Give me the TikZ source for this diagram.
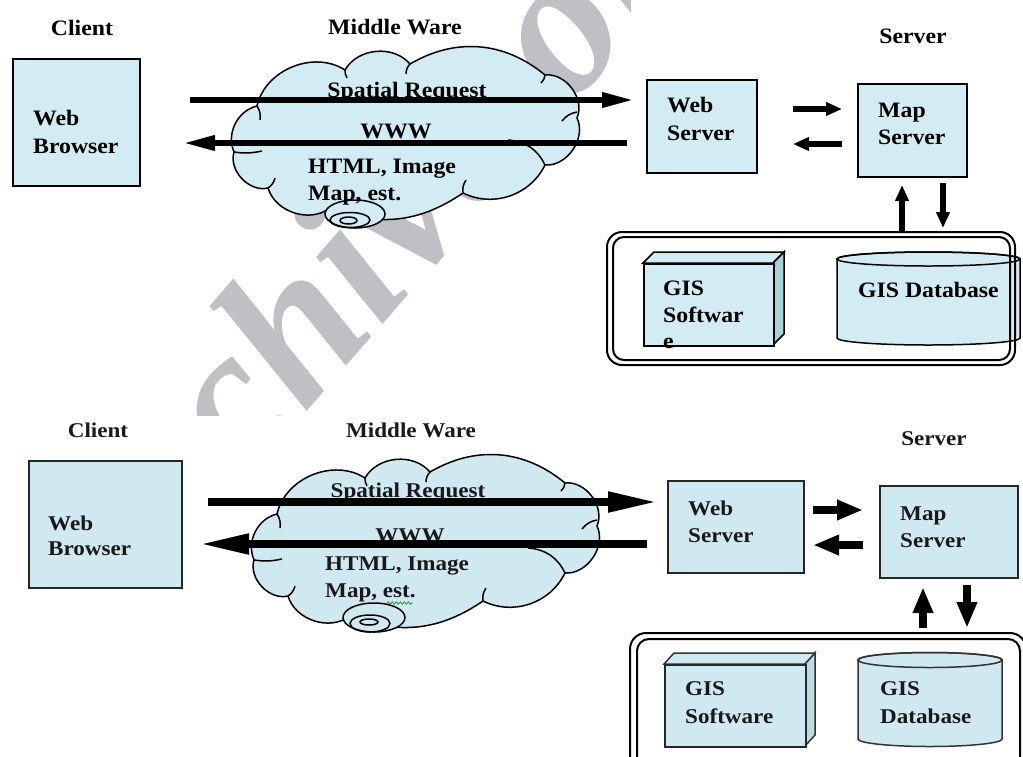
\documentclass[tikz,border=0pt]{standalone}
\usepackage{fontspec}
\setmainfont{Liberation Serif}
\newfontfamily\topf{Liberation Serif}[FakeStretch=1.08]
\newfontfamily\botf{Liberation Serif}[FakeStretch=1.1]
\newfontfamily\wmf{Liberation Serif}
\usetikzlibrary{arrows.meta,decorations.pathmorphing}
\definecolor{boxblue}{RGB}{211,236,243}
\definecolor{boxblueb}{RGB}{208,233,240}
\definecolor{sideteal}{RGB}{165,210,212}
\definecolor{sidetealb}{RGB}{185,222,226}
\definecolor{wmgray}{RGB}{190,192,196}
\definecolor{squig}{RGB}{40,150,60}
\tikzset{
 tt/.style={font=\topf\bfseries\fontsize{22}{26}\selectfont, inner sep=0pt, text=black},
 bt/.style={font=\botf\bfseries\fontsize{21}{25}\selectfont, inner sep=0pt, text=black!90},
 boxtop/.style={draw=black, line width=2pt, fill=boxblue, inner sep=0pt, anchor=north west},
 boxbot/.style={draw=black!85, line width=2pt, fill=boxblueb, inner sep=0pt, anchor=north west},
 bigarT/.style={line width=6.5pt, -{Triangle[length=33pt,width=14pt]}},
 smallarT/.style={line width=6pt, -{Triangle[length=16pt,width=13pt]}},
 bigarB/.style={line width=8pt, -{Triangle[length=50pt,width=19pt]}},
 smallarB/.style={line width=8pt, -{Triangle[length=26pt,width=19pt]}},
 cloudline/.style={draw=black, line width=1.5pt},
 thinline/.style={draw=black, line width=1.5pt},
 frameline/.style={draw=black, line width=2pt, rounded corners=15pt},
 cloudpic/.pic={
  \path[cloudline, fill=#1] (234,-152) to[bend left=50] (257,-106) to[bend left=55] (345,-70)
    to[bend left=55] (410,-64) to[bend left=35] (545,-75) to[bend left=60] (577,-118)
    to[bend left=60] (545,-165) to[bend left=45] (463,-193) to[bend left=28] (330,-208)
    to[bend left=55] (268,-188) to[bend left=60] (234,-152) -- cycle;
  \draw[thinline] (234,-152) to[bend right=10] (262,-151);
  \draw[thinline] (257,-106) to[bend left=20] (260,-120);
  \draw[thinline] (345,-70) to[bend right=15] (347,-78);
  \draw[thinline] (410,-64) to[bend right=20] (406,-74);
  \draw[thinline] (545,-75) to[bend left=20] (541,-83);
  \draw[thinline] (577,-112) to[bend right=20] (562,-121);
  \draw[thinline] (508,-140) to[bend left=30] (545,-165);
  \draw[thinline] (463,-193) to[bend left=20] (466,-180);
  \draw[thinline] (268,-188) to[bend right=20] (275,-178);
 },
}
\begin{document}
\begin{tikzpicture}[x=1pt,y=1pt]
\useasboundingbox (0,0) rectangle (1023,-756);
% watermark
\begin{scope}
 \clip (0,0) rectangle (630,-415);
 \node[font=\wmf\bfseries\itshape\fontsize{205}{225}\selectfont, text=wmgray, inner sep=0pt,
   anchor=center, rotate=49] (wm) at (483,-132) {Archive of SID};
\end{scope}

% ================= TOP DIAGRAM =================
\node[tt, anchor=base] (tclient) at (82,-35) {Client};
\node[tt, anchor=base] (tmid) at (395,-34) {Middle Ware};
\node[tt, anchor=base] (tserver) at (913,-43) {Server};

\node[boxtop, minimum width=127pt, minimum height=127pt] (twb) at (12,-58) {};
\node[tt, anchor=base west] (twb1) at (33,-125) {Web};
\node[tt, anchor=base west] (twb2) at (33,-153) {Browser};

\pic (tcloud) at (0,0) {cloudpic=boxblue};
\draw[cloudline, fill=boxblue] (355,-214) ellipse [x radius=30, y radius=14];
\draw[thinline] (350,-220) ellipse [x radius=20, y radius=7.5];
\draw[thinline] (348.5,-220.5) ellipse [x radius=8.5, y radius=3.5];

\node[tt, anchor=base] (tsr) at (407,-97) {Spatial Request};
\node[tt, anchor=base] (twww) at (396,-138) {WWW};
\node[tt, anchor=base west] (thtml) at (308,-173) {HTML, Image};
\node[tt, anchor=base west] (tmap) at (308,-200) {Map, est.};

\coordinate (tsrA) at (190,-100);
\coordinate (tsrB) at (635,-100);
\coordinate (twwA) at (627,-143);
\coordinate (twwB) at (182,-143);
\draw[bigarT] (tsrA) -- (tsrB);
\draw[bigarT] (twwA) -- (twwB);

\node[boxtop, minimum width=110pt, minimum height=93pt] (tws) at (646,-79) {};
\node[tt, anchor=base west] (tws1) at (667,-112) {Web};
\node[tt, anchor=base west] (tws2) at (667,-140) {Server};

\node[boxtop, minimum width=109pt, minimum height=93pt] (tms) at (857,-83) {};
\node[tt, anchor=base west] (tms1) at (878,-117) {Map};
\node[tt, anchor=base west] (tms2) at (878,-144) {Server};

\coordinate (ta1) at (793,-109);
\coordinate (ta2) at (842,-109);
\coordinate (ta3) at (842,-144);
\coordinate (ta4) at (793,-144);
\draw[smallarT] (ta1) -- (ta2);
\draw[smallarT] (ta3) -- (ta4);
\coordinate (tv1) at (902,-231);
\coordinate (tv2) at (902,-185);
\coordinate (tv3) at (943,-183);
\coordinate (tv4) at (943,-228);
\draw[smallarT] (tv1) -- (tv2);
\draw[smallarT] (tv3) -- (tv4);

% GIS software box (top)
\filldraw[fill=boxblue, line width=1.5pt] (643,-263) -- (654,-252) -- (784,-252) -- (773,-263) -- cycle;
\filldraw[fill=sideteal, line width=1.5pt] (773,-263) -- (784,-252) -- (784,-334) -- (773,-345) -- cycle;
\node[boxtop, line width=1.5pt, minimum width=130pt, minimum height=82pt] (tsw) at (643,-263) {};
\node[tt, anchor=base west] (tsw1) at (663,-295) {GIS};
\node[tt, anchor=base west] (tsw2) at (663,-322) {Softwar};
\node[tt, anchor=base west] (tsw3) at (663,-348) {e};

% GIS database cylinder (top)
\path[fill=boxblue, draw=black, line width=1.5pt] (837,-259) -- (837,-338)
  arc[start angle=180, end angle=360, x radius=91.5, y radius=7] -- (1020,-259)
  arc[start angle=0, end angle=180, x radius=91.5, y radius=7] -- cycle;
\draw[thinline] (928.5,-259) ellipse [x radius=91.5, y radius=7];
\node[tt, anchor=base west] (tdb) at (858,-297) {GIS Database};

% frame (top)
\draw[frameline] (607,-232) rectangle (1015,-365);
\draw[frameline, rounded corners=11pt] (613,-237) rectangle (1010,-360);

% ================= BOTTOM DIAGRAM =================
\node[bt, anchor=base] (bclient) at (98,-437) {Client};
\node[bt, anchor=base] (bmid) at (411,-437) {Middle Ware};
\node[bt, anchor=base] (bserver) at (934,-445) {Server};

\node[boxbot, minimum width=153pt, minimum height=127pt] (bwb) at (28,-460) {};
\node[bt, anchor=base west] (bwb1) at (48,-530) {Web};
\node[bt, anchor=base west] (bwb2) at (48,-555) {Browser};

\pic (bcloud) at (20,-408) {cloudpic=boxblueb};
\draw[cloudline, fill=boxblueb] (374,-617.5) ellipse [x radius=31, y radius=14.5];
\draw[thinline] (370,-623.5) ellipse [x radius=20, y radius=8.5];
\draw[thinline] (369,-622) ellipse [x radius=9, y radius=3];

\node[bt, anchor=base] (bsr) at (408,-497) {Spatial Request};
\node[bt, anchor=base] (bwww) at (410,-542) {WWW};
\node[bt, anchor=base west] (bhtml) at (325,-570) {HTML, Image};
\node[bt, anchor=base west] (bmap) at (325,-597) {Map, est.};
\coordinate (sq1) at (387,-603);
\coordinate (sq2) at (413,-603);
\draw[squig, line width=0.8pt, decorate, decoration={snake, amplitude=1.2pt, segment length=4pt}] (sq1) -- (sq2);

\coordinate (bsrA) at (208,-502);
\coordinate (bsrB) at (658,-502);
\coordinate (bwwA) at (647,-544);
\coordinate (bwwB) at (199,-544);
\draw[bigarB] (bsrA) -- (bsrB);
\draw[bigarB] (bwwA) -- (bwwB);

\node[boxbot, minimum width=136pt, minimum height=92pt] (bws) at (667,-480) {};
\node[bt, anchor=base west] (bws1) at (688,-515) {Web};
\node[bt, anchor=base west] (bws2) at (688,-542) {Server};

\node[boxbot, minimum width=138pt, minimum height=92pt] (bms) at (879,-485) {};
\node[bt, anchor=base west] (bms1) at (900,-520) {Map};
\node[bt, anchor=base west] (bms2) at (900,-547) {Server};

\coordinate (ba1) at (813,-510);
\coordinate (ba2) at (863,-510);
\coordinate (ba3) at (863,-545);
\coordinate (ba4) at (813,-545);
\draw[smallarB] (ba1) -- (ba2);
\draw[smallarB] (ba3) -- (ba4);
\coordinate (bv1) at (923,-628);
\coordinate (bv2) at (923,-587);
\coordinate (bv3) at (967,-585);
\coordinate (bv4) at (967,-628);
\draw[smallarB] (bv1) -- (bv2);
\draw[smallarB] (bv3) -- (bv4);

% frame (bottom)
\draw[frameline, rounded corners=16pt] (630,-633) rectangle (1026,-775);
\draw[frameline, rounded corners=12pt] (637,-639) rectangle (1020,-769);

% GIS software box (bottom)
\filldraw[fill=boxblueb, line width=1.5pt, draw=black!80] (664,-664) -- (674,-653) -- (815,-653) -- (805,-664) -- cycle;
\filldraw[fill=sidetealb, line width=1.5pt, draw=black!80] (805,-664) -- (815,-653) -- (815,-735) -- (805,-746) -- cycle;
\node[boxbot, line width=1.5pt, minimum width=141pt, minimum height=82pt] (bsw) at (664,-664) {};
\node[bt, anchor=base west] (bsw1) at (685,-695) {GIS};
\node[bt, anchor=base west] (bsw2) at (685,-723) {Software};

% GIS database cylinder (bottom)
\path[fill=boxblueb, draw=black!80, line width=1.5pt] (858,-660) -- (858,-739)
  arc[start angle=180, end angle=360, x radius=72, y radius=7.5] -- (1002,-660)
  arc[start angle=0, end angle=180, x radius=72, y radius=7.5] -- cycle;
\draw[thinline, draw=black!80] (930,-660) ellipse [x radius=72, y radius=7.5];
\node[bt, anchor=base west] (bdb1) at (880,-695) {GIS};
\node[bt, anchor=base west] (bdb2) at (880,-723) {Database};
\end{tikzpicture}
\end{document}
